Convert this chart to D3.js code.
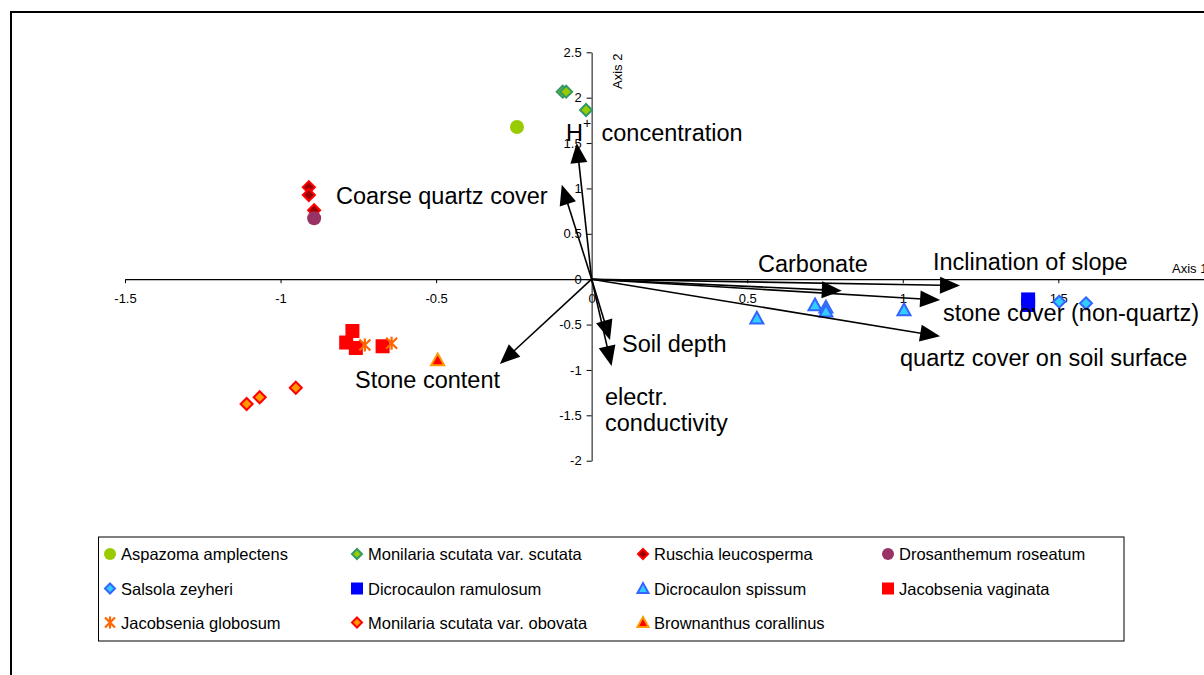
<!DOCTYPE html>
<html>
<head>
<meta charset="utf-8">
<script src="https://cdn.jsdelivr.net/npm/d3@7"></script>
<style>
  html, body { margin: 0; padding: 0; background: #fff; }
  svg { display: block; font-family: "Liberation Sans", Arial, sans-serif; }
</style>
</head>
<body>
<svg id="chart" width="1204" height="675"></svg>
<script>
// ---------------- data ----------------
const speciesNames = [
  "Aspazoma amplectens", "Monilaria scutata var. scutata", "Ruschia leucosperma", "Drosanthemum roseatum",
  "Salsola zeyheri", "Dicrocaulon ramulosum", "Dicrocaulon spissum", "Jacobsenia vaginata",
  "Jacobsenia globosum", "Monilaria scutata var. obovata", "Brownanthus corallinus"
];
const speciesX = [
  [-0.24],
  [-0.093, -0.082, -0.018],
  [-0.909, -0.909, -0.892],
  [-0.892],
  [1.503, 1.589],
  [1.403, 1.403],
  [0.531, 0.718, 0.753, 0.753, 1.004],
  [-0.769, -0.789, -0.758, -0.672],
  [-0.729, -0.643],
  [-1.109, -1.067, -0.951],
  [-0.495]
];
const speciesY = [
  [1.677],
  [2.066, 2.066, 1.864],
  [1.013, 0.928, 0.76],
  [0.671],
  [-0.248, -0.266],
  [-0.223, -0.284],
  [-0.431, -0.284, -0.31, -0.355, -0.339],
  [-0.571, -0.698, -0.758, -0.739],
  [-0.725, -0.706],
  [-1.375, -1.301, -1.196],
  [-0.89]
];
const vectorNames = ["H+ concentration", "Coarse quartz cover", "Stone content", "Soil depth",
  "electr. conductivity", "Carbonate", "Inclination of slope", "stone cover (non-quartz)",
  "quartz cover on soil surface"];
const vectorX = [-0.048, -0.096, -0.295, 0.059, 0.064, 0.804, 1.184, 1.12, 1.12];
const vectorY = [1.50, 1.04, -0.934, -0.67, -0.956, -0.127, -0.07, -0.23, -0.63];
const xTicks = [-1.5, -1, -0.5, 0, 0.5, 1, 1.5];
const yTicks = [-2, -1.5, -1, -0.5, 0, 0.5, 1, 1.5, 2, 2.5];

// ---------------- styles ----------------
const speciesStyle = [
  { shape: "circle", fill: "#99cc00", stroke: "#99cc00" },
  { shape: "diamond", fill: "#99cc00", stroke: "#339966" },
  { shape: "diamond", fill: "#990000", stroke: "#ff0000" },
  { shape: "circle", fill: "#993366", stroke: "#993366" },
  { shape: "diamond", fill: "#33ccff", stroke: "#3366ff" },
  { shape: "square", fill: "#0000ff", stroke: "#0000ff" },
  { shape: "triangle", fill: "#33ccff", stroke: "#3366ff" },
  { shape: "square", fill: "#ff0000", stroke: "#ff0000" },
  { shape: "star", fill: "none", stroke: "#ff6600" },
  { shape: "diamond", fill: "#ff9900", stroke: "#ff0000" },
  { shape: "triangle", fill: "#ff0000", stroke: "#ff9900" }
];
// label layout (pixel anchors: start x, baseline y)
const vectorLabelLayout = [
  null,
  { x: 336, y: 204 },
  { x: 355, y: 388 },
  { x: 622, y: 352 },
  null,
  { x: 758, y: 272 },
  { x: 933, y: 270 },
  { x: 943, y: 321 },
  { x: 900, y: 366 }
];

const svg = d3.select("#chart");

// outer frame
svg.append("rect").attr("x", 11).attr("y", 12).attr("width", 1300).attr("height", 800)
  .attr("fill", "none").attr("stroke", "#000").attr("stroke-width", 2);

const x = d3.scaleLinear().domain([-1.5, 2]).range([125, 125 + 3.5 * 311.1]);
const y = d3.scaleLinear().domain([-2, 2.5]).range([460.7, 52.3]);

// x axis
const xAxisG = svg.append("g").attr("transform", `translate(0,${y(0)})`)
  .call(d3.axisBottom(x).tickValues(xTicks).tickFormat(d => String(d)).tickSize(4).tickSizeOuter(0));
xAxisG.select(".domain").attr("stroke", "#000").attr("stroke-width", 1.2);
xAxisG.selectAll(".tick line").attr("stroke", "#000");
xAxisG.selectAll(".tick text").attr("font-size", 13).attr("font-family", "Liberation Sans, Arial, sans-serif")
  .attr("fill", "#000").attr("y", 15);

// y axis
const yAxisG = svg.append("g").attr("transform", `translate(${x(0)},0)`)
  .call(d3.axisLeft(y).tickValues(yTicks).tickFormat(d => String(d)).tickSize(5).tickSizeOuter(0));
yAxisG.select(".domain").attr("stroke", "#333").attr("stroke-width", 1.2);
yAxisG.selectAll(".tick line").attr("stroke", "#000");
yAxisG.selectAll(".tick text").attr("font-size", 13).attr("font-family", "Liberation Sans, Arial, sans-serif")
  .attr("fill", "#000").attr("x", -10);

// axis titles
svg.append("text").attr("transform", `translate(${x(0) + 27},${y(2.5) + 19}) rotate(-90)`)
  .attr("text-anchor", "middle").attr("dominant-baseline", "middle")
  .attr("font-size", 13).text("Axis 2");
svg.append("text").attr("x", 1172).attr("y", 273).attr("font-size", 13).text("Axis 1");

// ---------- markers ----------
function drawMarker(g, style, cx, cy, s) {
  const st = style;
  if (st.shape === "circle") {
    g.append("circle").attr("cx", cx).attr("cy", cy).attr("r", s / 2)
      .attr("fill", st.fill).attr("stroke", "none");
  } else if (st.shape === "diamond") {
    const r = s / 2;
    g.append("path").attr("d", `M${cx},${cy - r}L${cx + r},${cy}L${cx},${cy + r}L${cx - r},${cy}Z`)
      .attr("fill", st.fill).attr("stroke", st.stroke).attr("stroke-width", 2);
  } else if (st.shape === "square") {
    g.append("rect").attr("x", cx - s / 2).attr("y", cy - s / 2).attr("width", s).attr("height", s)
      .attr("fill", st.fill);
  } else if (st.shape === "triangle") {
    const r = s / 2;
    g.append("path").attr("d", `M${cx},${cy - r}L${cx + r},${cy + r * 0.8}L${cx - r},${cy + r * 0.8}Z`)
      .attr("fill", st.fill).attr("stroke", st.stroke).attr("stroke-width", 2).attr("stroke-linejoin", "miter");
  } else if (st.shape === "star") {
    const r = s / 2;
    g.append("path").attr("d",
      `M${cx - r},${cy - r}L${cx + r},${cy + r}M${cx + r},${cy - r}L${cx - r},${cy + r}M${cx},${cy - r - 1}L${cx},${cy + r + 1}`)
      .attr("fill", "none").attr("stroke", st.stroke).attr("stroke-width", 2.2);
  }
}

const markerSize = { circle: 14, diamond: 12, square: 14, triangle: 13, star: 11 };

const pts = svg.append("g");
speciesNames.forEach((name, i) => {
  const st = speciesStyle[i];
  speciesX[i].forEach((vx, j) => {
    drawMarker(pts, st, x(vx), y(speciesY[i][j]), markerSize[st.shape]);
  });
});

// ---------- vectors ----------
const vg = svg.append("g");
const ox = x(0), oy = y(0);
vectorNames.forEach((n, i) => {
  const tx = x(vectorX[i]), ty = y(vectorY[i]);
  const dx = tx - ox, dy = ty - oy, len = Math.hypot(dx, dy);
  const ux = dx / len, uy = dy / len;
  const hl = 20, hw = 8.5;
  const bx = tx - ux * hl, by = ty - uy * hl;
  vg.append("line").attr("x1", ox).attr("y1", oy).attr("x2", bx + ux * 2).attr("y2", by + uy * 2)
    .attr("stroke", "#000").attr("stroke-width", 1.6);
  vg.append("path")
    .attr("d", `M${tx},${ty}L${bx - uy * hw},${by + ux * hw}L${bx + uy * hw},${by - ux * hw}Z`)
    .attr("fill", "#000");
});

// ---------- vector labels ----------
const lf = 23.5;
const lg = svg.append("g").attr("font-size", lf).attr("fill", "#000");
vectorNames.forEach((n, i) => {
  const p = vectorLabelLayout[i];
  if (!p) return;
  lg.append("text").attr("x", p.x).attr("y", p.y).text(n);
});
// H+ concentration (superscript)
const hp = vectorNames[0].split(" ");
lg.append("text").attr("x", 566).attr("y", 141).text(hp[0].charAt(0));
lg.append("text").attr("x", 583).attr("y", 128).attr("font-size", 14).text(hp[0].charAt(1));
lg.append("text").attr("x", 601.5).attr("y", 141).text(hp[1]);
// electr. conductivity (two lines)
const ec = vectorNames[4].split(" ");
lg.append("text").attr("x", 605).attr("y", 405).text(ec[0]);
lg.append("text").attr("x", 605).attr("y", 431).text(ec[1]);

// ---------- legend ----------
const legend = svg.append("g");
legend.append("rect").attr("x", 98.5).attr("y", 537).attr("width", 1025.5).attr("height", 104)
  .attr("fill", "#fff").attr("stroke", "#000").attr("stroke-width", 1);
const colX = [110, 357, 643, 888];
const rowY = [554, 588.5, 622.5];
const legendMarkerSize = { circle: 12, diamond: 10, square: 12, triangle: 11, star: 10 };
speciesNames.forEach((name, i) => {
  const c = i % 4, r = Math.floor(i / 4);
  const cx = colX[c], cy = rowY[r];
  drawMarker(legend, speciesStyle[i], cx, cy, legendMarkerSize[speciesStyle[i].shape]);
  legend.append("text").attr("x", cx + 11).attr("y", cy + 6).attr("font-size", 16.5).text(name);
});
</script>
</body>
</html>
